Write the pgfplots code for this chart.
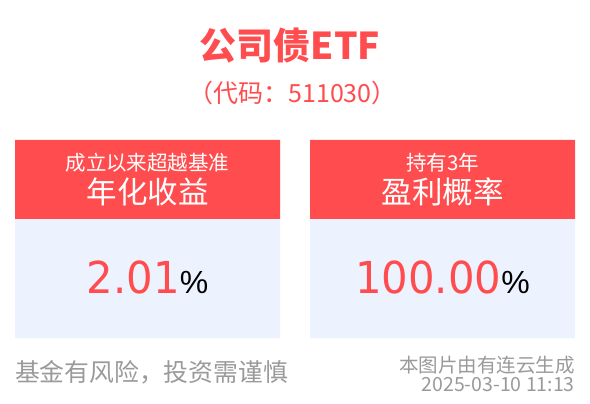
\documentclass[border=0pt]{standalone}
\usepackage{pgfplots}
\pgfplotsset{compat=1.18}
\usepackage{fontspec}
\setmainfont{Noto Sans CJK SC}
\newfontfamily\numfont[FakeStretch=0.95]{DejaVu Sans}
\newfontfamily\pctfont{Liberation Sans}
\definecolor{hdred}{HTML}{FF4D4F}
\definecolor{panelbg}{HTML}{ECF2FE}
\definecolor{note}{HTML}{9A9A9A}
\newcommand{\fs}[1]{\fontsize{#1}{#1}\selectfont}
\begin{document}
\begin{tikzpicture}
\begin{axis}[
    width=590pt, height=404pt, scale only axis,
    xmin=0, xmax=590, ymin=0, ymax=404, y dir=reverse,
    hide axis, clip=false,
]
% background, to keep the page size
\addplot[fill=white, draw=none] coordinates {(0,0) (590,0) (590,404) (0,404) (0,0)};
% panel headers and bodies
\addplot[fill=hdred, draw=none] coordinates {(15,140) (280,140) (280,219) (15,219) (15,140)};
\addplot[fill=panelbg, draw=none] coordinates {(15,219) (280,219) (280,338) (15,338) (15,219)};
\addplot[fill=hdred, draw=none] coordinates {(310,140) (575,140) (575,219) (310,219) (310,140)};
\addplot[fill=panelbg, draw=none] coordinates {(310,219) (575,219) (575,338) (310,338) (310,219)};

\node[inner sep=0, text=hdred, font=\fs{37}\bfseries] at (axis cs:290,46) {公司债ETF};
\node[inner sep=0, text=hdred, font=\fs{25}] at (axis cs:292.5,93) {（代码：511030）};

\node[inner sep=0, text=white, font=\fs{20.5}] at (axis cs:147.5,162.5) {成立以来超越基准};
\node[inner sep=0, text=white, font=\fs{30.5}] at (axis cs:147.5,192) {年化收益};
\node[inner sep=0, text=white, font=\fs{20.5}] at (axis cs:442.5,162.5) {持有3年};
\node[inner sep=0, text=white, font=\fs{30.5}] at (axis cs:442.5,192) {盈利概率};

\node[inner sep=0, anchor=base] at (axis cs:147.5,293)
    {\textcolor{hdred}{\numfont\fs{44}2.01}\pctfont\fs{32}\%};
\node[inner sep=0, anchor=base] at (axis cs:442.5,293)
    {\textcolor{hdred}{\numfont\fs{44}100.00}\pctfont\fs{32}\%};

\node[inner sep=0, anchor=west, text=note, font=\fs{24.8}] at (axis cs:15,372) {基金有风险，投资需谨慎};
\node[inner sep=0, anchor=east, text=note, font=\fs{19.5}] at (axis cs:575,365) {本图片由有连云生成};
\node[inner sep=0, anchor=east, text=note, font=\fs{19.5}] at (axis cs:575,385) {2025-03-10 11:13};
\end{axis}
\end{tikzpicture}
\end{document}
